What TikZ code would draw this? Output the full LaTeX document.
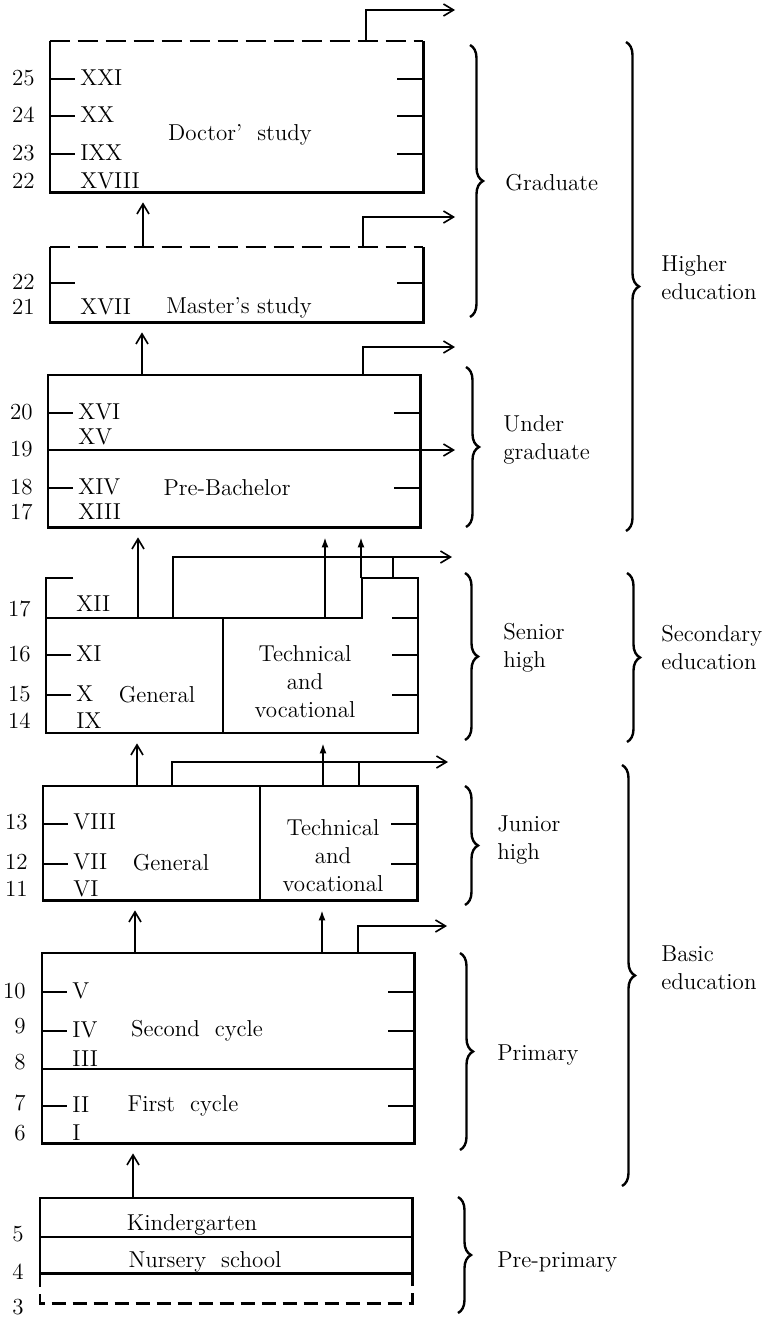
\documentclass[tikz,border=0pt]{standalone}
\usepackage{tikz}
\usetikzlibrary{arrows.meta,decorations.pathreplacing,fit}

\begin{document}
\begin{tikzpicture}[x=0.5pt, y=-0.5pt,
    every node/.style={font=\fontsize{11.5}{14}\selectfont, inner sep=1pt},
    hold/.style={inner sep=0pt},
    frame/.style={line width=1.1pt},
    topdash/.style={line width=1.1pt, dash pattern=on 10pt off 4pt},
    lowdash/.style={line width=1.1pt, dash pattern=on 7pt off 3.5pt},
    tick/.style={line width=1pt},
    link/.style={line width=0.8pt},
    up/.style={line width=0.8pt, -{Straight Barb[length=5pt,width=6pt]}, shorten >=5pt},
    uptech/.style={line width=0.8pt, -{Latex[length=5pt,width=3.5pt]}, shorten >=5pt},
    exit/.style={line width=0.8pt, -{Straight Barb[length=5pt,width=6pt]}},
    age/.style={anchor=east, text height=1.6ex, text depth=0pt},
    grade/.style={anchor=west, text height=1.6ex, text depth=0pt},
    level/.style={anchor=west, align=left},
    curly/.style={decorate, decoration={brace, amplitude=6.5pt}, line width=1.2pt}]
    \useasboundingbox (0,0) rectangle (771,1317);

    % Doctor's study
    \node[hold, fit={(50,41) (423,192)}] (doc) {};
    \draw[frame] (doc.north west) -- (doc.south west) -- (doc.south east) -- (doc.north east);
    \draw[topdash] (doc.north west) -- (doc.north east);
    \foreach \y in {79,116,154} {\draw[tick] (50,\y) -- +(25,0); \draw[tick] (423,\y) -- +(-26,0);}
    \foreach \a/\y in {25/79,24/116,23/154,22/182} \node[age] (age\y) at (37,\y) {\a};
    \foreach \g/\y in {XXI/79,XX/116,IXX/154,XVIII/182} \node[grade] (gr\y) at (78,\y) {\g};
    \node (doctxt) at (240,135) {Doctor'\ \ study};

    % Master's study
    \node[hold, fit={(50,247) (423,322)}] (mas) {};
    \draw[frame] (mas.north west) -- (mas.south west) -- (mas.south east) -- (mas.north east);
    \draw[topdash] (mas.north west) -- (mas.north east);
    \draw[tick] (50,283) -- +(25,0); \draw[tick] (423,283) -- +(-26,0);
    \foreach \a/\y in {22/283,21/308} \node[age] (age\y) at (37,\y) {\a};
    \node[grade] (gr308) at (78,308) {XVII};
    \node (mastxt) at (239,308) {Master's study};

    % Pre-Bachelor
    \node[hold, fit={(48,375) (420,527)}] (ugr) {};
    \coordinate (out19) at (455,450);
    \draw[frame] (ugr.north west) rectangle (ugr.south east);
    \draw[frame] (ugr.west |- out19) -- (ugr.east |- out19);
    \draw[exit] (ugr.east |- out19) -- (out19);
    \foreach \y in {413,488} {\draw[tick] (48,\y) -- +(25,0); \draw[tick] (420,\y) -- +(-26,0);}
    \foreach \a/\y in {20/413,19/450,18/488,17/513} \node[age] (age\y) at (35,\y) {\a};
    \foreach \g/\y in {XVI/413,XV/438,XIV/488,XIII/513} \node[grade] (gr\y) at (76,\y) {\g};
    \node (ugrtxt) at (227,488) {Pre-Bachelor};

    % Senior high
    \node[hold, fit={(46,578) (418,733)}] (sen) {};
    \draw[frame] (73,578) -- (46,578) -- (46,733) -- (418,733) -- (418,578) -- (362,578) -- (362,618) -- (46,618);
    \draw[frame] (223,618) -- (223,733);
    \foreach \y in {655,695} \draw[tick] (46,\y) -- +(25,0);
    \foreach \y in {618,655,695} \draw[tick] (418,\y) -- +(-26,0);
    \foreach \a/\y in {17/610,16/655,15/695,14/722} \node[age] (age\y) at (33,\y) {\a};
    \foreach \g/\y in {XII/605,XI/655,X/695,IX/722} \node[grade] (gr\y) at (74,\y) {\g};
    \node (sengen) at (157,695) {General};
    \node[align=center] (sentec) at (305,682) {Technical\\and\\vocational};

    % Junior high
    \node[hold, fit={(43,786) (417,900)}] (jun) {};
    \draw[frame] (jun.north west) rectangle (jun.south east);
    \draw[frame] (260,786) -- (260,900);
    \foreach \y in {824,864} {\draw[tick] (43,\y) -- +(25,0); \draw[tick] (417,\y) -- +(-26,0);}
    \foreach \a/\y in {13/823,12/863,11/890} \node[age] (age\y) at (30,\y) {\a};
    \foreach \g/\y in {VIII/823,VII/863,VI/890} \node[grade] (gr\y) at (71,\y) {\g};
    \node (jungen) at (171,863) {General};
    \node[align=center] (juntec) at (333,856) {Technical\\and\\vocational};

    % Primary
    \node[hold, fit={(42,953) (414,1143)}] (pri) {};
    \draw[frame] (pri.north west) rectangle (pri.south east);
    \draw[frame] (42,1069) -- (414,1069);
    \foreach \y in {992,1031,1106} {\draw[tick] (42,\y) -- +(25,0); \draw[tick] (414,\y) -- +(-26,0);}
    \foreach \a/\y in {10/992,9/1027,8/1063,7/1104,6/1134} \node[age] (age\y) at (28,\y) {\a};
    \foreach \g/\y in {V/992,IV/1031,III/1060,II/1106,I/1134} \node[grade] (gr\y) at (70,\y) {\g};
    \node (pri2) at (197,1031) {Second\ \ cycle};
    \node (pri1) at (183,1106) {First\ \ cycle};

    % Pre-primary
    \node[hold, fit={(40,1198) (412,1273)}] (pre) {};
    \draw[frame] (pre.north west) rectangle (pre.south east);
    \draw[frame] (40,1237) -- (412,1237);
    \draw[lowdash] (pre.south west) -- ++(0,30) -| (pre.south east);
    \foreach \a/\y in {5/1235,4/1273,3/1308} \node[age] (age\y) at (26,\y) {\a};
    \node (kind) at (192,1225) {Kindergarten};
    \node (nurs) at (205,1262) {Nursery\ \ school};

    % ways up
    \coordinate (preU) at (133,1198);
    \draw[up] (preU) -- (preU |- pri.south);
    \coordinate (priU) at (135,953); \coordinate (priT) at (322,953);
    \draw[up] (priU) -- (priU |- jun.south);
    \draw[uptech] (priT) -- (priT |- jun.south);
    \coordinate (junU) at (137,786); \coordinate (junT) at (323,786);
    \draw[up] (junU) -- (junU |- sen.south);
    \draw[uptech] (junT) -- (junT |- sen.south);
    \coordinate (senU) at (138,618); \coordinate (senT) at (325,618); \coordinate (senS) at (361,578);
    \draw[up] (senU) -- (senU |- ugr.south);
    \draw[uptech] (senT) -- (senT |- ugr.south);
    \draw[uptech] (senS) -- (senS |- ugr.south);
    \coordinate (ugrU) at (142,375);
    \draw[up] (ugrU) -- (ugrU |- mas.south);
    \coordinate (masU) at (143,247);
    \draw[up] (masU) -- (masU |- doc.south);

    % ways out
    \coordinate (priX) at (358,953); \coordinate (outP) at (447,926);
    \draw[exit] (priX) |- (outP);
    \coordinate (junX) at (172,786); \coordinate (junY) at (359,786); \coordinate (outJ) at (448,762);
    \draw[exit] (junX) |- (outJ);
    \draw[link] (junY) -- (junY |- outJ);
    \coordinate (senX) at (173,618); \coordinate (senY) at (393,578); \coordinate (outS) at (452,557);
    \draw[exit] (senX) |- (outS);
    \draw[link] (senY) -- (senY |- outS);
    \coordinate (ugrX) at (363,375); \coordinate (outU) at (455,347);
    \draw[exit] (ugrX) |- (outU);
    \coordinate (masX) at (363,247); \coordinate (outM) at (455,217);
    \draw[exit] (masX) |- (outM);
    \coordinate (docX) at (366,41); \coordinate (outD) at (455,10);
    \draw[exit] (docX) |- (outD);

    % braces
    \draw[curly] (470,45) -- (470,317);
    \node[level] (lgrad) at (503,183) {Graduate};
    \draw[curly] (466,367) -- (466,527);
    \node[level] (lunder) at (501,440) {Under\\graduate};
    \draw[curly] (465,573) -- (465,740);
    \node[level] (lsen) at (501,648) {Senior\\high};
    \draw[curly] (465,786) -- (465,905);
    \node[level] (ljun) at (495,840) {Junior\\high};
    \draw[curly] (460,953) -- (460,1150);
    \node[level] (lpri) at (495,1055) {Primary};
    \draw[curly] (458,1197) -- (458,1313);
    \node[level] (lpre) at (495,1262) {Pre-primary};
    \draw[curly] (626,42) -- (626,531);
    \node[level] (lhigh) at (659,278) {Higher\\education};
    \draw[curly] (627,573) -- (627,742);
    \node[level] (lsec) at (659,648) {Secondary\\education};
    \draw[curly] (622,765) -- (622,1186);
    \node[level] (lbas) at (659,968) {Basic\\education};
\end{tikzpicture}
\end{document}
